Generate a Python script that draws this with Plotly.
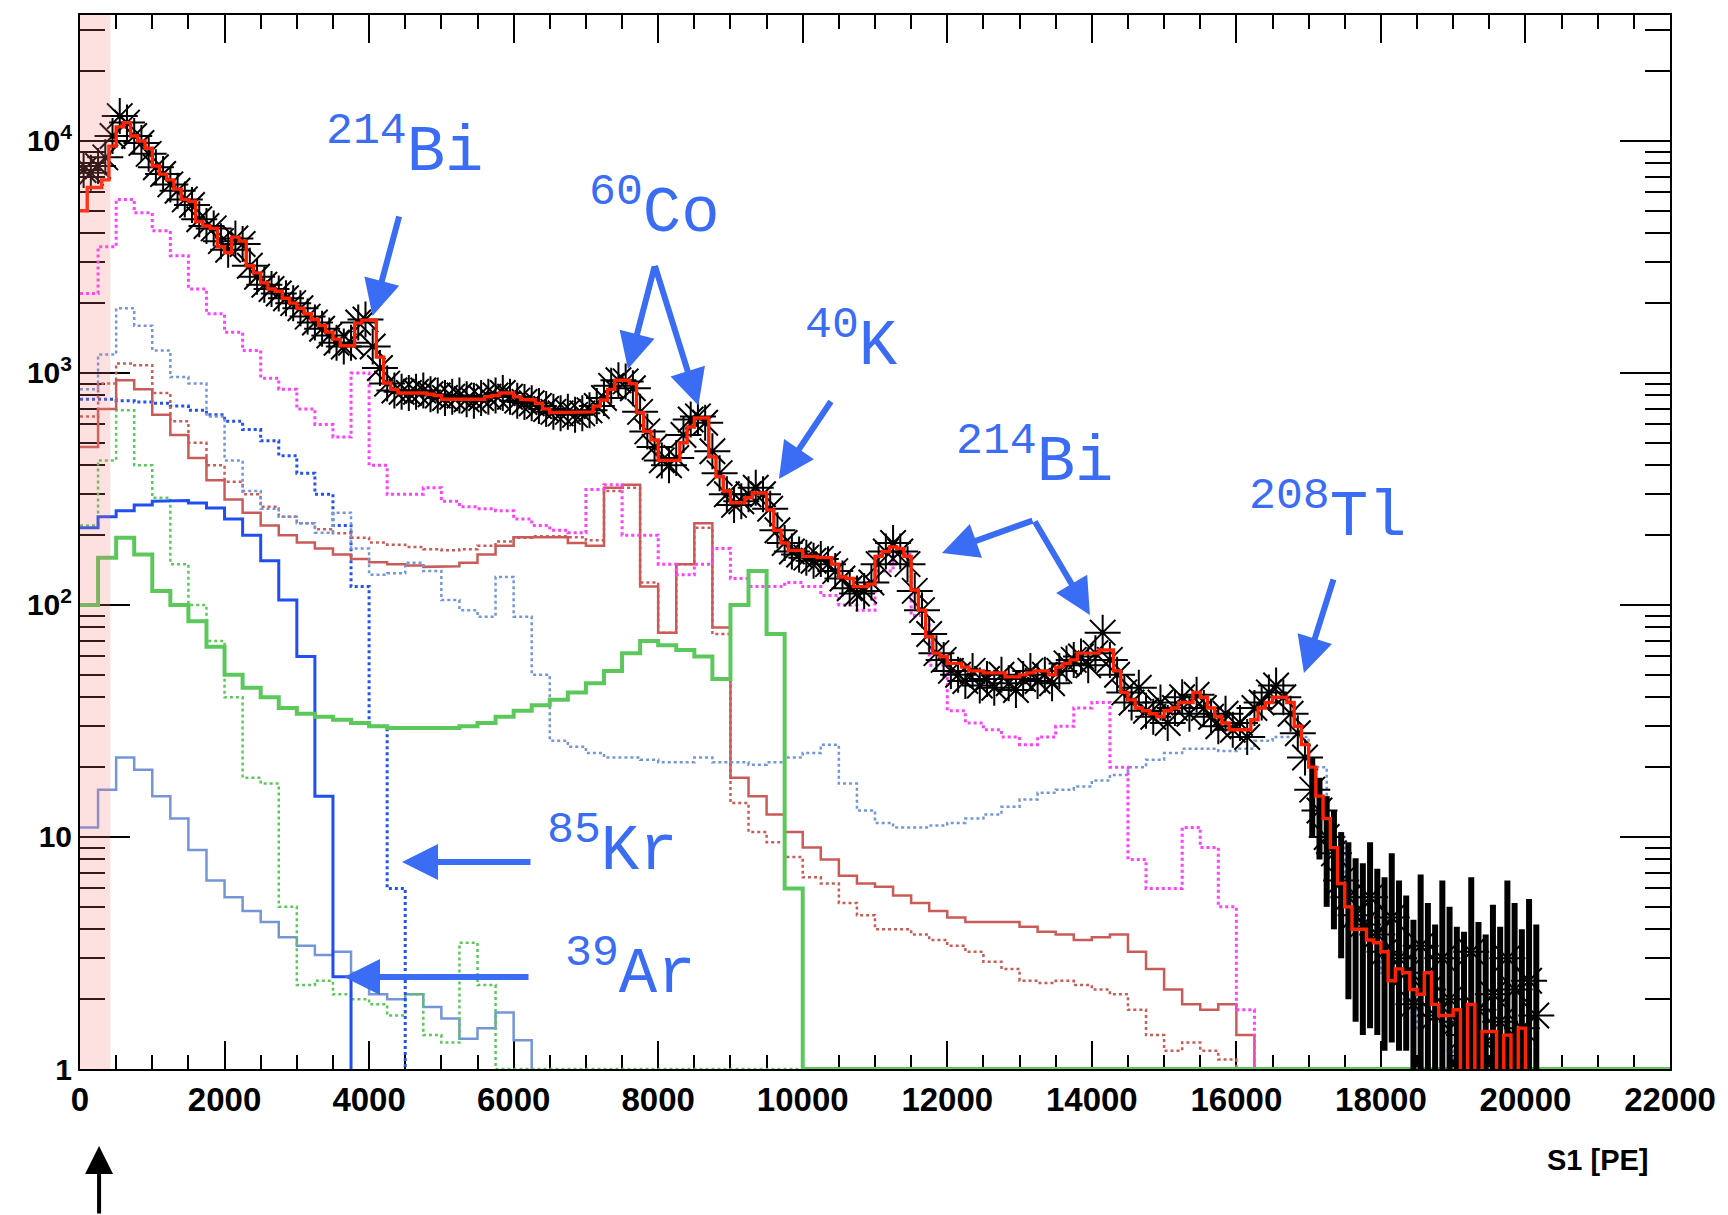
import numpy as np
import plotly.graph_objects as go

# ---------------- data ----------------
X_MAX = 22000
FLOOR = 1.0          # log-axis floor: empty bins are drawn here (ROOT style)
SHADE_END = 420      # low-energy excluded band

# total MC sum, 100 PE bins starting at 0
MC_BIN = 100
total_mc = [5000, 6300, 6300, 6800, 9500, 11500, 12000, 10500, 10000, 9300,
            7800, 7200, 6800, 6200, 5600, 5500, 4500, 4300, 4200, 3500,
            3300, 3850, 3700, 2900, 2700, 2450, 2300, 2250, 2100, 2000,
            1900, 1800, 1700, 1600, 1500, 1400, 1310, 1310, 1640, 1690,
            1690, 1170, 906, 850, 820, 820, 820, 820, 810, 800,
            770, 765, 765, 770, 765, 770, 790, 800, 820, 820,
            790, 770, 765, 740, 700, 675, 675, 675, 675, 675,
            680, 720, 765, 850, 930, 930, 900, 675, 560, 515,
            420, 420, 420, 500, 585, 640, 640, 435, 357, 310,
            276, 276, 290, 304, 304, 257, 210, 185, 172, 172,
            162, 162, 160, 160, 150, 132, 130, 120, 120, 123,
            162, 170, 178, 175, 162, 116, 95, 73, 62, 60,
            56, 56, 54, 52, 52, 51, 51, 51, 49, 49,
            50, 51, 52, 52, 50, 54, 56, 58, 62, 62,
            62, 64, 64, 52, 42, 39, 36, 35, 34, 33,
            35, 36, 38, 38, 42, 40, 36, 33, 31, 29,
            29, 29, 32, 36, 38, 40, 40, 38, 30, 25,
            20, 15, 12, 9, 6.3, 5, 4, 4, 3.6, 3.5,
            3.2, 2.4, 2.7, 2.6, 2.2, 2.1, 2.6, 1.9, 1.7, 1.7,
            1.8, 0, 1.9, 0, 1.45, 1.45, 0, 1.4, 0, 1.5]

# measured data points, 100 PE bins
data_pts = [7500, 7300, 7800, 8500, 10500, 12800, 12000, 10500, 9800, 8800,
            7700, 7200, 6500, 6100, 5600, 5300, 4600, 4300, 4200, 3700,
            3400, 3800, 3600, 2900, 2600, 2400, 2300, 2200, 2100, 2000,
            1900, 1750, 1650, 1550, 1450, 1350, 1300, 1350, 1650, 1700,
            1300, 1050, 900, 840, 830, 820, 830, 840, 810, 800,
            780, 790, 800, 770, 760, 780, 790, 800, 820, 790,
            760, 750, 740, 720, 700, 680, 670, 680, 660, 670,
            690, 720, 780, 880, 930, 920, 860, 680, 560, 480,
            420, 400, 430, 540, 630, 650, 610, 460, 370, 300,
            270, 280, 300, 320, 300, 260, 210, 185, 170, 165,
            160, 155, 158, 150, 140, 130, 118, 112, 115, 125,
            150, 170, 185, 170, 150, 115, 95, 75, 62, 58,
            52, 50, 47, 52, 45, 48, 44, 50, 46, 43,
            48, 52, 47, 50, 46, 52, 56, 58, 60, 55,
            62, 76, 58, 50, 42, 38, 44, 35, 33, 38,
            31, 36, 40, 34, 41, 36, 33, 30, 34, 29,
            31, 27, 36, 38, 42, 45, 40, 34, 28, 22,
            16, 13, 10, 8.5, 6.5, 5.5, 4.6, 4.2, 5.5, 3.8,
            3.2, 4.5, 3.0, 2.6, 1.9, 3.4, 2.2, 1.7, 3.0, 2.0,
            1.6, 1.4, 3.2, 1.8, 1.3, 2.1, 1.6, 3.0, 2.2, 1.5,
            2.4, 1.7]
ERR_START = 170
data_err_up = [6, 5, 5, 4.5, 4, 4, 3.5, 3.5, 4, 3.5, 3.5, 4, 3.5, 3, 2.5, 3.5,
               3, 2.5, 3.5, 3, 2.5, 2.5, 3.5, 2.5, 2.5, 3, 2.5, 3.5, 3, 2.5, 3, 2.5]
data_err_dn = [6, 5, 5, 4.5, 3.5, 3.5, 3, 2.8, 4, 2.4, 2, 3.2, 1.8, 1.4, 1.0, 2.4,
               1.2, 0.8, 2.0, 1.0, 0.8, 0.6, 2.2, 0.9, 0.5, 1.2, 0.8, 2.0, 1.2, 0.6, 1.4, 0.8]

# background components, 250 PE bins starting at 0
COMP_BIN = 250
magenta_dot = [2200, 3500, 5600, 4900, 4100, 3200, 2300, 1800, 1500, 1250,
               950, 850, 700, 600, 530, 1000, 400, 300, 300, 320,
               280, 265, 260, 255, 235, 220, 210, 205, 315, 330,
               200, 200, 150, 135, 150, 175, 130, 120, 120, 125,
               120, 110, 100, 95, 140, 165, 90, 55, 35, 31,
               29, 27, 25, 27, 30, 36, 38, 20, 8, 6,
               6, 11, 9, 5, 1.8]

lightblue_dot = [850, 1200, 1900, 1600, 1250, 960, 900, 650, 420, 310,
                 260, 240, 225, 205, 250, 175, 135, 137, 152, 140,
                 105, 95, 89, 132, 89, 50, 26, 24.5, 23, 22,
                 22, 21.5, 21, 21, 22, 21, 21, 20.5, 21, 22,
                 23, 25, 17, 13, 11.5, 11, 11, 11.2, 11.5, 12,
                 12.5, 13.5, 14.5, 15.5, 16, 16.5, 17.5, 18.5, 20, 21.5,
                 23, 24, 24, 23.5, 24, 26, 27, 27, 20, 10,
                 5, 3.3, 2.6, 2.0, 1.5, 1.2, 1.1]

brown_solid = [480, 700, 930, 850, 660, 540, 430, 345, 285, 250,
               220, 200, 186, 175, 165, 158, 153, 150, 148, 146,
               147, 152, 165, 180, 196, 196, 196, 185, 180, 320,
               330, 120, 76, 150, 225, 80, 18, 15, 12.5, 10.5,
               9, 8, 6.8, 6.3, 6.1, 5.6, 5.2, 4.8, 4.5, 4.3,
               4.3, 4.3, 4.1, 3.9, 3.8, 3.6, 3.7, 3.8, 3.2, 2.7,
               2.2, 1.9, 1.8, 1.9, 1.4]

brown_dot = [650, 900, 1100, 1080, 820, 620, 500, 400, 340, 300,
             265, 240, 225, 212, 204, 195, 186, 182, 178, 174,
             172, 174, 180, 188, 195, 198, 198, 196, 190, 310,
             320, 125, 76, 150, 215, 75, 14, 10.5, 9.5, 8.2,
             6.7, 6.3, 5.2, 4.6, 4.0, 4.0, 3.8, 3.6, 3.4, 3.2,
             2.9, 2.7, 2.4, 2.35, 2.4, 2.3, 2.2, 2.1, 1.8, 1.4,
             1.2, 1.3, 1.2, 1.1]

kr85_dot = [770, 770, 760, 750, 740, 720, 690, 660, 620, 570,
            510, 440, 370, 300, 220, 120, 30, 6]

ar39_solid = [215, 240, 255, 270, 280, 282, 275, 262, 235, 200,
              155, 105, 60, 15, 2.5]

green_solid = [100, 160, 195, 165, 115, 100, 85, 66, 50, 44,
               40, 36, 34, 33, 32, 31, 30, 29.5, 29.5, 29.5,
               29.5, 30, 31, 33, 35, 37, 39, 42, 46, 52,
               62, 70, 67, 64, 60, 48, 100, 140, 75, 6]

green_dot = [220, 420, 690, 400, 290, 150, 100, 70, 40, 18,
             17, 5, 2.3, 2.4, 2.1, 2.0, 1.9, 1.7, 2.1, 1.4,
             1.3, 3.5, 2.3]

lightblue_solid = [11, 16, 22, 19.5, 15, 12, 8.8, 6.5, 5.5, 4.8,
                   4.3, 3.7, 3.4, 3.1, 3.2, 2.6, 2.1, 2.0, 2.1, 1.85,
                   1.65, 1.35, 1.5, 1.75, 1.33]

x_ticks = list(range(0, 22001, 2000))
x_ticktext = [str(v) for v in x_ticks]
y_tickvals = [1, 10, 100, 1000, 10000]
y_ticktext = ["1", "10", "10<sup>2</sup>", "10<sup>3</sup>", "10<sup>4</sup>"]

iso_labels = ["<sup>214</sup>Bi", "<sup>60</sup>Co", "<sup>40</sup>K", "<sup>214</sup>Bi",
              "<sup>208</sup>Tl", "<sup>85</sup>Kr", "<sup>39</sup>Ar"]


# ---------------- helpers ----------------
def step_xy(vals, width, extend_floor=False):
    xs, ys = [], []
    for i, v in enumerate(vals):
        yv = v if v > 0 else FLOOR * 0.97
        xs += [i * width, (i + 1) * width]
        ys += [yv, yv]
    end_y = FLOOR if extend_floor else FLOOR * 0.97
    xs.append(len(vals) * width)
    ys.append(end_y)
    if extend_floor:
        xs.append(X_MAX)
        ys.append(end_y)
    return xs, ys


fig = go.Figure()

series = [
    (lightblue_solid, "#7496d6", 2.5, "solid", False),
    (green_dot, "#5cc85c", 2.5, "dot", True),
    (ar39_solid, "#1f4ff2", 3.0, "solid", False),
    (kr85_dot, "#2452f0", 3.0, "dot", False),
    (brown_dot, "#c95c58", 2.5, "dot", False),
    (brown_solid, "#c95c58", 2.5, "solid", False),
    (lightblue_dot, "#7496d6", 2.5, "dot", False),
    (magenta_dot, "#ff40ff", 3.0, "dot", False),
    (green_solid, "#5cc85c", 4.0, "solid", True),
]
for vals, col, w, dash, ext in series:
    xs, ys = step_xy(vals, COMP_BIN, ext)
    fig.add_trace(go.Scatter(x=xs, y=ys, mode="lines",
                             line=dict(color=col, width=w, dash=dash),
                             showlegend=False, hoverinfo="skip"))

# data points with error bars
centers = [(i + 0.5) * MC_BIN for i in range(len(data_pts))]
err_up = [0.0] * ERR_START + data_err_up
err_dn = [0.0] * ERR_START + data_err_dn
fig.add_trace(go.Scatter(
    x=centers, y=data_pts, mode="markers",
    marker=dict(symbol="asterisk-open", size=30, color="black",
                line=dict(color="rgba(0,0,0,0.9)", width=2.0)),
    error_y=dict(type="data", array=err_up[:len(data_pts)],
                 arrayminus=err_dn[:len(data_pts)], symmetric=False,
                 color="black", thickness=6, width=0),
    showlegend=False, hoverinfo="skip"))

# total MC sum
xs, ys = step_xy(total_mc, MC_BIN)
fig.add_trace(go.Scatter(x=xs, y=ys, mode="lines",
                         line=dict(color="#ff2200", width=3.4),
                         showlegend=False, hoverinfo="skip"))

# shaded excluded region
fig.add_shape(type="rect", xref="x", yref="paper", x0=0, x1=SHADE_END, y0=0, y1=1,
              fillcolor="rgba(245,120,120,0.22)", line=dict(width=0), layer="above")

# ---------------- annotations ----------------
ann = []
BLUE = "#3a6cf4"
label_pos = [(4483, 3.97), (7955, 3.711), (10668, 3.134), (13213, 2.634),
             (17267, 2.397), (7361, 0.961), (7610, 0.427)]
for txt, (lx, ly) in zip(iso_labels, label_pos):
    ann.append(dict(x=lx, y=ly, xref="x", yref="y", text=txt, showarrow=False,
                    font=dict(family="Liberation Mono", size=64, color=BLUE),
                    xanchor="center", yanchor="middle"))

# arrow heads (x, log10 y) and tail offsets (px)
arrows = [(4047, 3.246, 27, -101),
          (7582, 3.017, 27, -104),
          (8557, 2.860, -44, -141),
          (9671, 2.543, 53, -79),
          (11927, 2.224, 92, -33),
          (13974, 1.957, -56, -95),
          (16935, 1.707, 30, -95),
          (4455, 0.892, 130, 0),
          (3653, 0.397, 186, 0)]
for hx, hy, ax, ay in arrows:
    ann.append(dict(x=hx, y=hy, xref="x", yref="y", ax=ax, ay=ay, text="",
                    showarrow=True, arrowhead=2, arrowsize=1.2, arrowwidth=6,
                    arrowcolor=BLUE))

# black arrow below axis
ann.append(dict(x=0.012, y=-0.073, xref="paper", yref="paper", ax=0, ay=70, text="",
                showarrow=True, arrowhead=2, arrowsize=1.4, arrowwidth=4,
                arrowcolor="black"))
# axis title
ann.append(dict(x=0.988, y=-0.086, xref="paper", yref="paper", text="S1 [PE]",
                showarrow=False, xanchor="right", yanchor="middle",
                font=dict(family="Liberation Sans", size=29, color="black", weight="bold")))

fig.update_layout(
    width=1728, height=1215,
    margin=dict(l=80, r=58, t=15, b=146, autoexpand=False),
    paper_bgcolor="white", plot_bgcolor="white",
    showlegend=False,
    annotations=ann,
    xaxis=dict(range=[0, X_MAX], tickmode="array", tickvals=x_ticks, ticktext=x_ticktext,
               ticks="inside", ticklen=28, tickwidth=2, tickcolor="black",
               minor=dict(dtick=500, ticks="inside", ticklen=14, tickwidth=2, tickcolor="black"),
               showline=True, linecolor="black", linewidth=2, mirror="allticks",
               showgrid=False, zeroline=False, layer="below traces",
               tickfont=dict(family="Liberation Sans", size=33, color="black", weight="bold")),
    yaxis=dict(type="log", range=[0, 4.543], tickmode="array",
               tickvals=y_tickvals, ticktext=y_ticktext,
               ticks="inside", ticklen=50, tickwidth=2, tickcolor="black",
               minor=dict(tickmode="array",
                          tickvals=[m * 10 ** d for d in range(0, 5) for m in range(2, 10)],
                          ticks="inside", ticklen=25, tickwidth=2, tickcolor="black"),
               showline=True, linecolor="black", linewidth=2, mirror="allticks",
               showgrid=False, zeroline=False, layer="below traces",
               tickfont=dict(family="Liberation Sans", size=30, color="black", weight="bold")),
)

fig.write_html("out.html")
